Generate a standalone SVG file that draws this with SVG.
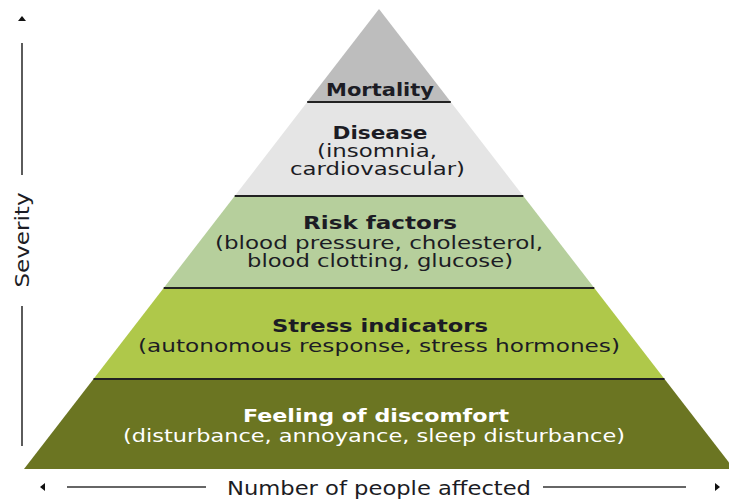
<svg xmlns="http://www.w3.org/2000/svg" xmlns:xlink="http://www.w3.org/1999/xlink" width="729" height="502" viewBox="0 0 729 502">
<style>
.t{font-family:"DejaVu Sans","Liberation Sans",sans-serif;font-size:17px;fill:#1c1c24;text-anchor:middle}
.b{font-weight:bold;font-size:18.5px}
.w{fill:#ffffff}
.sep{stroke:#222;stroke-width:2}
.ax{stroke:#333;stroke-width:1.6;fill:none}
.axt{font-family:"DejaVu Sans Condensed","DejaVu Sans","Liberation Sans",sans-serif;font-size:20px;fill:#1c1c24;text-anchor:middle}
</style>
<defs>
<polygon id="ah" points="0,-4 5,0 0,4" fill="#111"/>
</defs>
<rect width="729" height="502" fill="#fff"/>
<g id="mortality">
<polygon points="379,9 450.8,102 307.2,102" fill="#bdbdbd"/>
<text class="t b" x="380" y="96" textLength="108" lengthAdjust="spacingAndGlyphs">Mortality</text>
</g>
<g id="disease">
<polygon points="307.2,102 450.8,102 523.3,196 234.7,196" fill="#e5e5e5"/>
<text class="t b" x="380" y="139" textLength="95" lengthAdjust="spacingAndGlyphs">Disease</text>
<text class="t" x="377" y="157" textLength="120" lengthAdjust="spacingAndGlyphs">(insomnia,</text>
<text class="t" x="377.5" y="175" textLength="175" lengthAdjust="spacingAndGlyphs">cardiovascular)</text>
</g>
<g id="risk-factors">
<polygon points="234.7,196 523.3,196 594.3,288 163.7,288" fill="#b6cf9c"/>
<text class="t b" x="380" y="229" textLength="154" lengthAdjust="spacingAndGlyphs">Risk factors</text>
<text class="t" x="379" y="249" textLength="328" lengthAdjust="spacingAndGlyphs">(blood pressure, cholesterol,</text>
<text class="t" x="380" y="267" textLength="266" lengthAdjust="spacingAndGlyphs">blood clotting, glucose)</text>
</g>
<g id="stress-indicators">
<polygon points="163.7,288 594.3,288 664.5,379 93.5,379" fill="#afc84a"/>
<text class="t b" x="380" y="332" textLength="216" lengthAdjust="spacingAndGlyphs">Stress indicators</text>
<text class="t" x="379" y="352" textLength="482" lengthAdjust="spacingAndGlyphs">(autonomous response, stress hormones)</text>
</g>
<g id="feeling-of-discomfort">
<polygon points="93.5,379 664.5,379 734,469 24,469" fill="#6b7522"/>
<text class="t b w" x="376" y="422" textLength="266" lengthAdjust="spacingAndGlyphs">Feeling of discomfort</text>
<text class="t w" x="374" y="442" textLength="502" lengthAdjust="spacingAndGlyphs">(disturbance, annoyance, sleep disturbance)</text>
</g>
<g id="connectors">
<line class="sep" x1="307.2" y1="102" x2="450.8" y2="102"/>
<line class="sep" x1="234.7" y1="196" x2="523.3" y2="196"/>
<line class="sep" x1="163.7" y1="288" x2="594.3" y2="288"/>
<line class="sep" x1="93.5" y1="379" x2="664.5" y2="379"/>
</g>
<g id="severity-axis">
<use xlink:href="#ah" transform="translate(22,21) rotate(-90)"/>
<line class="ax" x1="22" y1="43" x2="22" y2="175"/>
<line class="ax" x1="22" y1="306" x2="22" y2="446"/>
<text class="axt" transform="translate(29,240) rotate(-90)" x="0" y="0" textLength="95" lengthAdjust="spacingAndGlyphs">Severity</text>
</g>
<g id="people-axis">
<use xlink:href="#ah" transform="translate(45,487) rotate(180)"/>
<line class="ax" x1="67" y1="487" x2="206" y2="487"/>
<line class="ax" x1="543" y1="487" x2="686" y2="487"/>
<use xlink:href="#ah" transform="translate(715,487)"/>
<text class="axt" x="379" y="495" textLength="304" lengthAdjust="spacingAndGlyphs">Number of people affected</text>
</g>
</svg>
